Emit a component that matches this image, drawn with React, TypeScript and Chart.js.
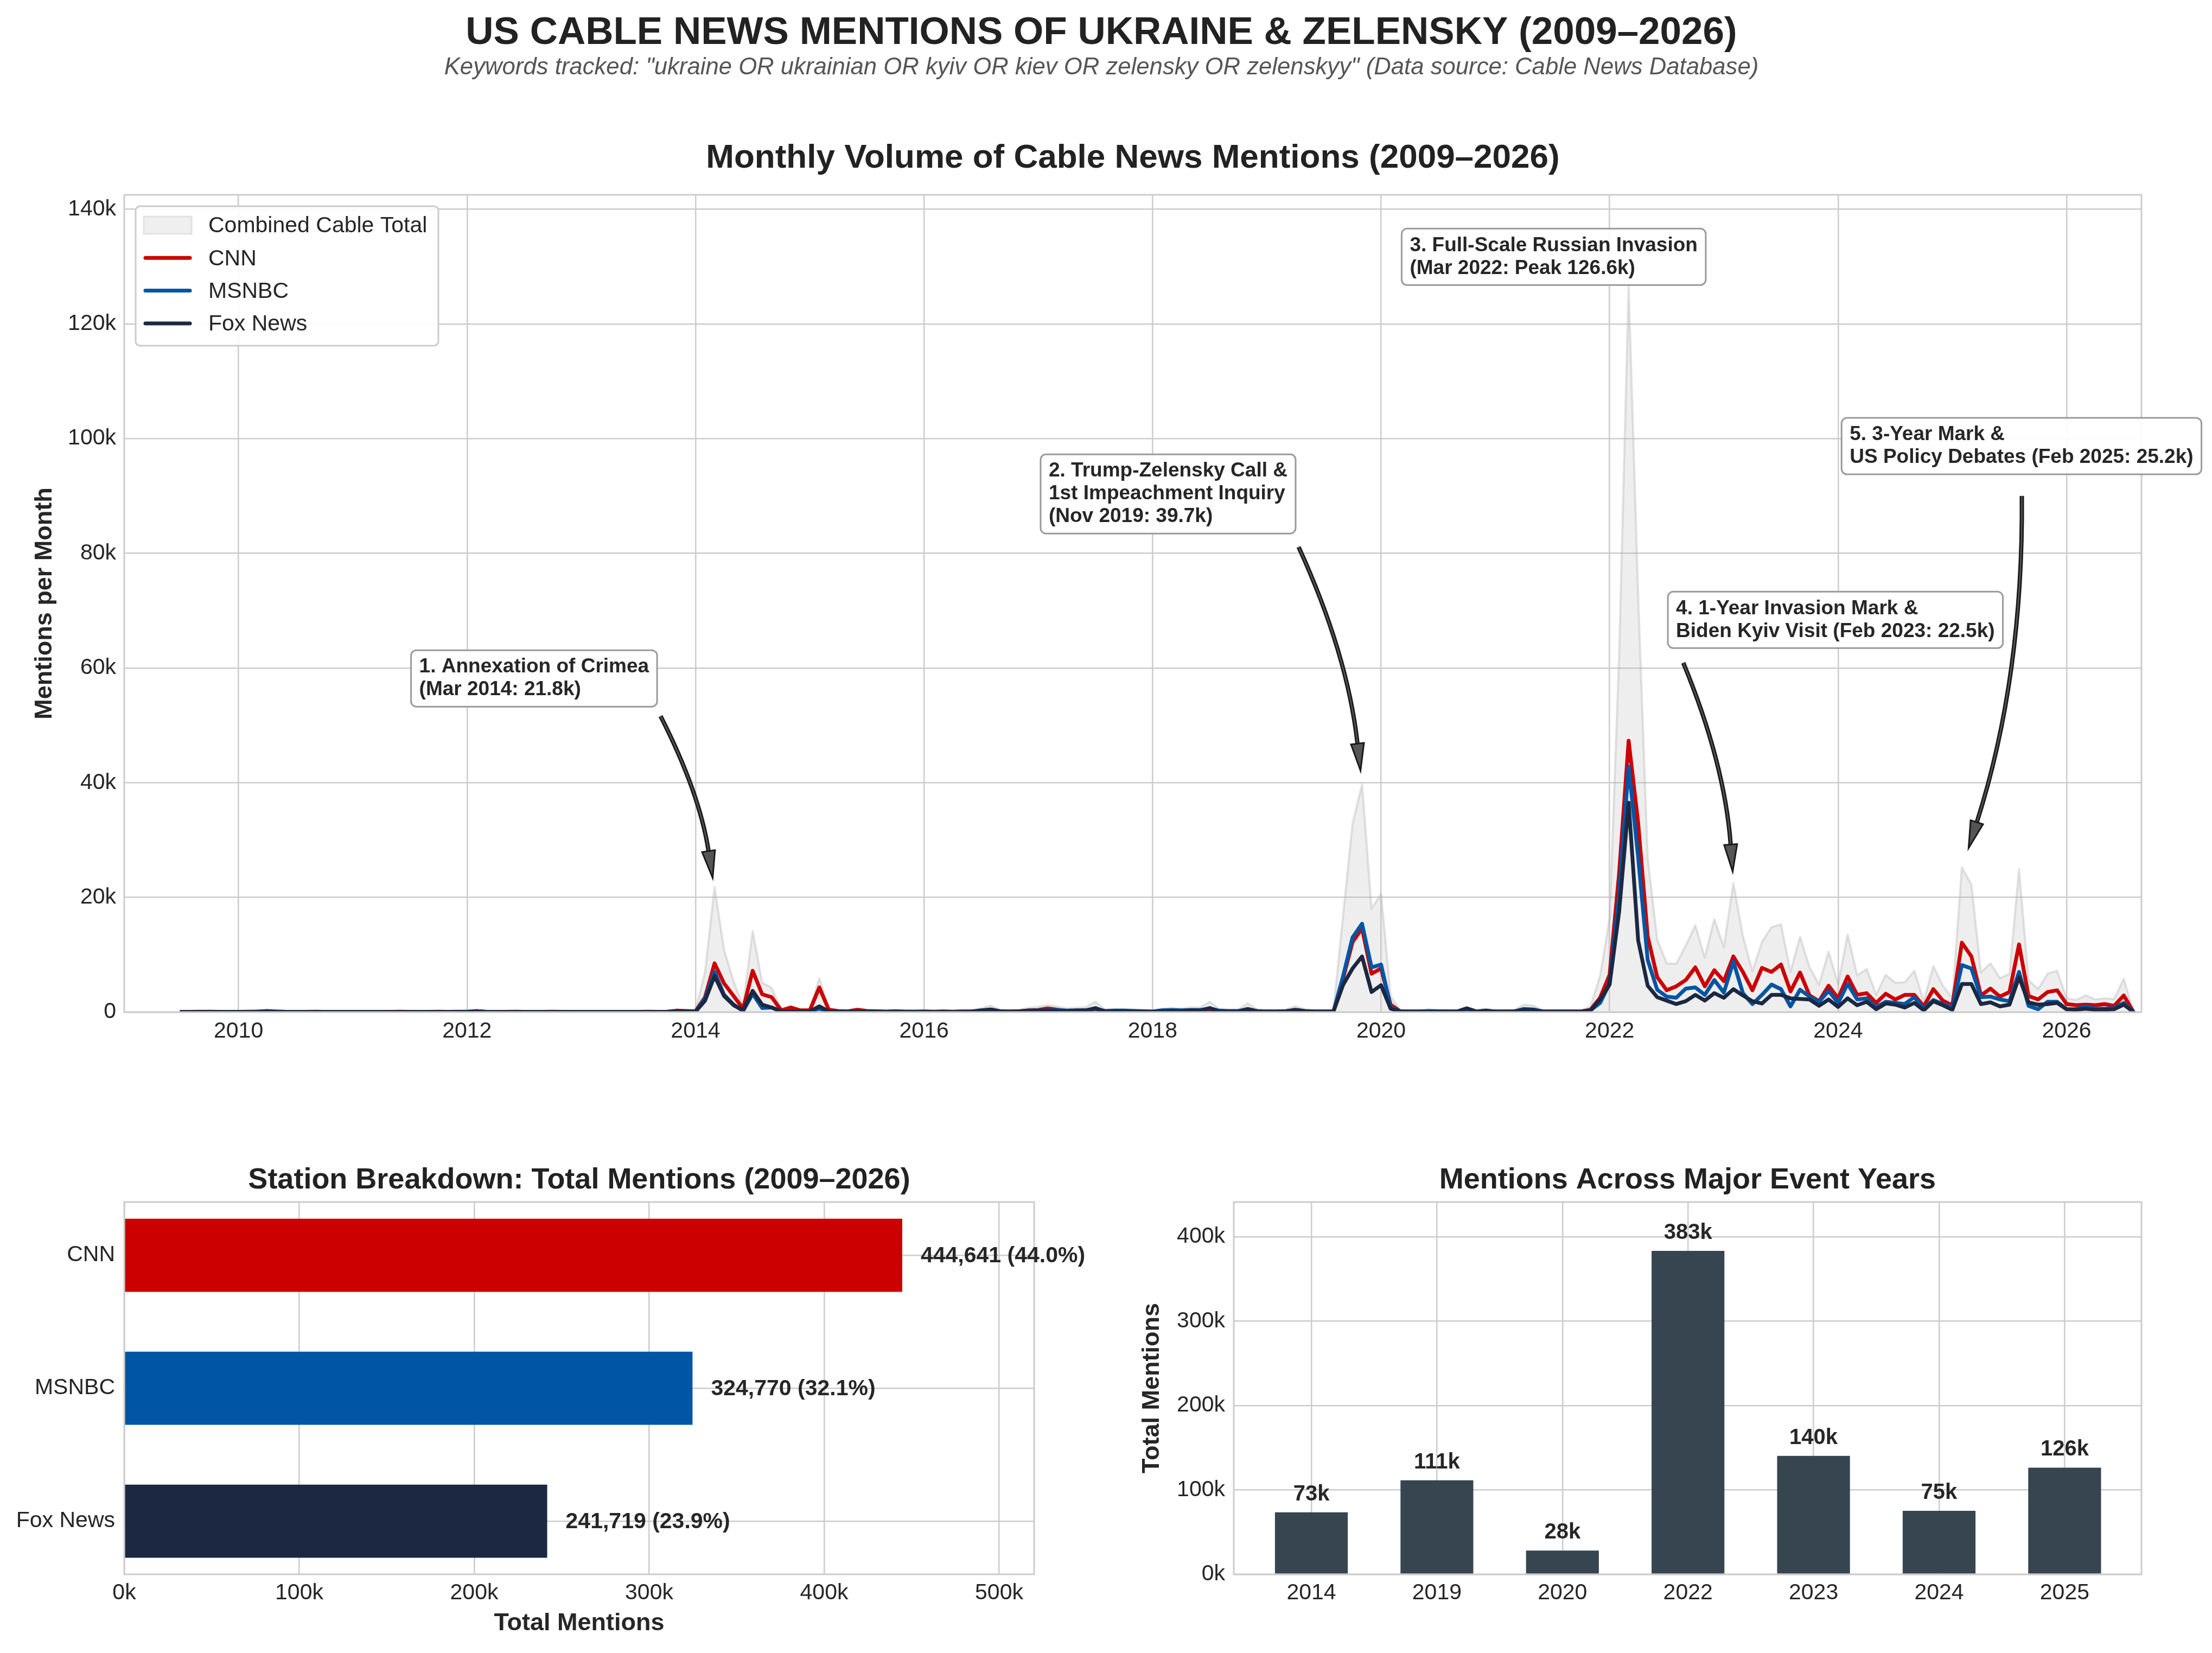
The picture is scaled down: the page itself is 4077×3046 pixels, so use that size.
import React, { useEffect, useRef } from "react";
import { Chart, registerables } from "chart.js";

Chart.register(...registerables);

const FONT = "'Liberation Sans', Arial, Helvetica, sans-serif";
const INK = "#262626";
const GRID = "#cccccc";

const CNN_COLOR = "#CC0000";
const MSNBC_COLOR = "#0055A4";
const FOX_COLOR = "#1C2841";
const EVENT_BAR_COLOR = "#36454F";

// ---------- Monthly series (thousands of mentions), Jul 2009 .. Aug 2026 ----------
const FIRST_YEAR = 2009;
const FIRST_MONTH = 7;

const cnnK: number[] = [
  0.05, 0.04, 0.06, 0.05, 0.04, 0.05, // 2009 Jul-Dec
  0.05, 0.06, 0.08, 0.12, 0.07, 0.05, 0.04, 0.05, 0.06, 0.05, 0.04, 0.05, // 2010
  0.05, 0.04, 0.05, 0.05, 0.04, 0.06, 0.05, 0.04, 0.05, 0.06, 0.05, 0.06, // 2011
  0.08, 0.2, 0.07, 0.05, 0.05, 0.06, 0.05, 0.04, 0.05, 0.06, 0.05, 0.04, // 2012
  0.05, 0.04, 0.05, 0.05, 0.04, 0.05, 0.05, 0.06, 0.05, 0.07, 0.25, 0.2, // 2013
  0.15, 2.6, 8.5, 5.0, 2.8, 0.6, 7.2, 3.1, 2.6, 0.3, 0.8, 0.3, // 2014
  0.3, 4.3, 0.4, 0.2, 0.15, 0.4, 0.2, 0.15, 0.1, 0.15, 0.1, 0.1, // 2015
  0.1, 0.08, 0.1, 0.08, 0.1, 0.12, 0.2, 0.25, 0.15, 0.1, 0.15, 0.3, // 2016
  0.35, 0.65, 0.4, 0.2, 0.2, 0.25, 0.5, 0.15, 0.15, 0.15, 0.15, 0.1, // 2017
  0.1, 0.15, 0.2, 0.15, 0.2, 0.2, 0.45, 0.15, 0.1, 0.15, 0.55, 0.15, // 2018
  0.1, 0.1, 0.15, 0.3, 0.15, 0.1, 0.1, 0.1, 5.8, 12.2, 14.6, 6.7, // 2019
  7.6, 1.3, 0.15, 0.1, 0.1, 0.15, 0.1, 0.12, 0.1, 0.15, 0.1, 0.2, // 2020
  0.1, 0.1, 0.15, 0.35, 0.3, 0.1, 0.1, 0.1, 0.1, 0.1, 0.4, 2.5, // 2021
  6.5, 24.2, 47.3, 33.0, 13.2, 6.1, 3.8, 4.5, 5.6, 7.8, 4.5, 7.3, // 2022
  5.4, 9.7, 7.0, 3.8, 7.7, 7.0, 8.3, 3.6, 6.9, 2.9, 1.9, 4.6, // 2023
  2.4, 6.2, 3.0, 3.3, 1.6, 3.2, 2.2, 3.0, 3.0, 1.0, 4.0, 2.0, // 2024
  1.2, 12.1, 9.7, 2.9, 4.1, 2.7, 3.5, 11.8, 2.8, 2.2, 3.5, 3.8, // 2025
  1.4, 1.2, 1.3, 1.2, 1.4, 1.1, 2.9, 0.1, // 2026 Jan-Aug
];

const msnbcK: number[] = [
  0.03, 0.03, 0.04, 0.03, 0.03, 0.04, // 2009
  0.03, 0.04, 0.08, 0.2, 0.1, 0.04, 0.03, 0.03, 0.04, 0.03, 0.03, 0.03, // 2010
  0.03, 0.03, 0.03, 0.04, 0.03, 0.03, 0.03, 0.03, 0.04, 0.03, 0.03, 0.04, // 2011
  0.03, 0.05, 0.03, 0.03, 0.04, 0.03, 0.03, 0.03, 0.04, 0.03, 0.03, 0.03, // 2012
  0.03, 0.03, 0.03, 0.03, 0.03, 0.03, 0.04, 0.03, 0.03, 0.04, 0.08, 0.06, // 2013
  0.05, 2.4, 7.0, 3.0, 1.3, 0.2, 3.2, 0.7, 0.8, 0.1, 0.1, 0.1, // 2014
  0.1, 0.6, 0.05, 0.05, 0.05, 0.1, 0.1, 0.08, 0.05, 0.1, 0.05, 0.05, // 2015
  0.05, 0.05, 0.05, 0.05, 0.06, 0.08, 0.15, 0.45, 0.1, 0.08, 0.1, 0.25, // 2016
  0.3, 0.3, 0.35, 0.25, 0.3, 0.3, 0.6, 0.2, 0.25, 0.25, 0.2, 0.15, // 2017
  0.1, 0.3, 0.35, 0.3, 0.35, 0.35, 0.65, 0.25, 0.2, 0.2, 0.45, 0.2, // 2018
  0.1, 0.1, 0.15, 0.3, 0.15, 0.1, 0.1, 0.1, 6.2, 13.0, 15.4, 7.8, // 2019
  8.3, 0.9, 0.1, 0.1, 0.1, 0.2, 0.15, 0.1, 0.1, 0.1, 0.1, 0.15, // 2020
  0.1, 0.1, 0.1, 0.55, 0.45, 0.1, 0.1, 0.1, 0.1, 0.08, 0.3, 1.6, // 2021
  5.0, 20.6, 42.8, 27.0, 9.1, 3.9, 2.7, 2.5, 4.1, 4.3, 3.0, 5.6, // 2022
  3.4, 8.8, 3.3, 1.4, 3.0, 4.8, 4.0, 1.0, 3.9, 2.7, 1.8, 3.7, // 2023
  1.6, 4.9, 2.2, 2.4, 0.9, 1.8, 1.6, 1.4, 2.6, 0.6, 2.1, 1.4, // 2024
  0.8, 8.2, 7.6, 2.6, 2.7, 2.2, 1.9, 7.0, 1.1, 0.5, 1.8, 1.8, // 2025
  0.5, 0.5, 1.0, 0.6, 0.6, 0.7, 1.6, 0.05, // 2026
];

const foxK: number[] = [
  0.05, 0.04, 0.05, 0.06, 0.04, 0.05, // 2009
  0.05, 0.05, 0.06, 0.1, 0.07, 0.05, 0.04, 0.04, 0.05, 0.05, 0.04, 0.05, // 2010
  0.04, 0.05, 0.04, 0.05, 0.04, 0.05, 0.05, 0.04, 0.04, 0.05, 0.04, 0.05, // 2011
  0.05, 0.07, 0.05, 0.04, 0.05, 0.04, 0.05, 0.04, 0.05, 0.05, 0.04, 0.05, // 2012
  0.04, 0.05, 0.04, 0.05, 0.04, 0.05, 0.04, 0.05, 0.05, 0.05, 0.1, 0.1, // 2013
  0.08, 2.0, 6.3, 2.8, 1.2, 0.3, 3.7, 1.3, 0.8, 0.1, 0.1, 0.1, // 2014
  0.1, 1.0, 0.1, 0.05, 0.05, 0.1, 0.1, 0.1, 0.05, 0.1, 0.05, 0.05, // 2015
  0.1, 0.05, 0.1, 0.05, 0.1, 0.1, 0.3, 0.45, 0.15, 0.1, 0.15, 0.2, // 2016
  0.25, 0.25, 0.2, 0.2, 0.25, 0.3, 0.7, 0.1, 0.15, 0.15, 0.15, 0.1, // 2017
  0.05, 0.15, 0.2, 0.15, 0.3, 0.25, 0.7, 0.1, 0.1, 0.1, 0.5, 0.1, // 2018
  0.1, 0.1, 0.15, 0.4, 0.2, 0.1, 0.1, 0.1, 4.7, 7.6, 9.7, 3.5, // 2019
  4.7, 0.6, 0.1, 0.1, 0.1, 0.1, 0.1, 0.1, 0.1, 0.65, 0.1, 0.25, // 2020
  0.1, 0.1, 0.1, 0.4, 0.35, 0.1, 0.1, 0.1, 0.1, 0.1, 0.3, 2.2, // 2021
  4.8, 17.5, 36.5, 12.5, 4.6, 2.6, 2.0, 1.4, 1.9, 3.0, 2.0, 3.3, // 2022
  2.5, 4.0, 2.9, 1.9, 1.5, 3.0, 3.0, 2.4, 2.3, 2.2, 1.1, 2.2, // 2023
  0.9, 2.4, 1.2, 1.8, 0.5, 1.5, 1.3, 0.8, 1.6, 0.3, 1.9, 1.2, // 2024
  0.4, 4.9, 4.9, 1.4, 1.7, 1.0, 1.3, 6.1, 1.7, 1.3, 1.4, 1.6, // 2025
  0.5, 0.4, 0.6, 0.4, 0.4, 0.5, 1.3, 0.05, // 2026
];

const seriesLabels = ["Combined Cable Total", "CNN", "MSNBC", "Fox News"];

const yearTicks = [2010, 2012, 2014, 2016, 2018, 2020, 2022, 2024, 2026];
const monthlyTicks = [0, 20000, 40000, 60000, 80000, 100000, 120000, 140000];

// ---------- Station totals ----------
const stationNames = ["CNN", "MSNBC", "Fox News"];
const stationTotals = [444641, 324770, 241719];
const stationColors = [CNN_COLOR, MSNBC_COLOR, FOX_COLOR];
const stationTicks = [0, 100000, 200000, 300000, 400000, 500000];

// ---------- Event years ----------
const eventYears = ["2014", "2019", "2020", "2022", "2023", "2024", "2025"];
const eventTotals = [73400, 111300, 28200, 383100, 140300, 75200, 126400];
const eventTicks = [0, 100000, 200000, 300000, 400000];

// ---------- Annotations ----------
const noteTexts = [
  ["1. Annexation of Crimea", "(Mar 2014: 21.8k)"],
  ["2. Trump-Zelensky Call &", "1st Impeachment Inquiry", "(Nov 2019: 39.7k)"],
  ["3. Full-Scale Russian Invasion", "(Mar 2022: Peak 126.6k)"],
  ["4. 1-Year Invasion Mark &", "Biden Kyiv Visit (Feb 2023: 22.5k)"],
  ["5. 3-Year Mark &", "US Policy Debates (Feb 2025: 25.2k)"],
];
// top-left corner of each note box, in data units (year, mentions)
const noteBoxAt = [
  { x: 2011.51, y: 63100 },
  { x: 2017.02, y: 97250 },
  { x: 2020.18, y: 136600 },
  { x: 2022.51, y: 73300 },
  { x: 2024.03, y: 103600 },
];
const noteArrowFrom = [
  { x: 2013.694, y: 51600 },
  { x: 2019.278, y: 81100 },
  null,
  { x: 2022.645, y: 60900 },
  { x: 2025.608, y: 90000 },
];
const noteArrowTo = [
  { x: 2014.15, y: 23400 },
  { x: 2019.82, y: 42100 },
  null,
  { x: 2023.077, y: 24500 },
  { x: 2025.142, y: 28600 },
];

Chart.defaults.font.family = FONT;
Chart.defaults.color = INK;

function roundRectPath(ctx: CanvasRenderingContext2D, x: number, y: number, w: number, h: number, r: number) {
  ctx.beginPath();
  ctx.moveTo(x + r, y);
  ctx.arcTo(x + w, y, x + w, y + h, r);
  ctx.arcTo(x + w, y + h, x, y + h, r);
  ctx.arcTo(x, y + h, x, y, r);
  ctx.arcTo(x, y, x + w, y, r);
  ctx.closePath();
}

function drawArrow(ctx: CanvasRenderingContext2D, x0: number, y0: number, x1: number, y1: number) {
  const dx = x1 - x0;
  const dy = y1 - y0;
  const f = 0.08;
  const cx = (x0 + x1) / 2 + f * dy;
  const cy = (y0 + y1) / 2 - f * dx;
  let tx = x1 - cx;
  let ty = y1 - cy;
  const tl = Math.hypot(tx, ty);
  tx /= tl;
  ty /= tl;
  const headLen = 50;
  const headHalf = 12;
  const bx = x1 - tx * headLen;
  const by = y1 - ty * headLen;
  ctx.save();
  ctx.lineCap = "butt";
  ctx.beginPath();
  ctx.moveTo(x0, y0);
  ctx.quadraticCurveTo(cx, cy, bx, by);
  ctx.strokeStyle = "#1a1a1a";
  ctx.lineWidth = 8;
  ctx.stroke();
  ctx.strokeStyle = "#555555";
  ctx.lineWidth = 2.5;
  ctx.stroke();
  ctx.beginPath();
  ctx.moveTo(x1, y1);
  ctx.lineTo(bx - ty * headHalf, by + tx * headHalf);
  ctx.lineTo(bx + ty * headHalf, by - tx * headHalf);
  ctx.closePath();
  ctx.fillStyle = "#555555";
  ctx.fill();
  ctx.strokeStyle = "#1a1a1a";
  ctx.lineWidth = 3;
  ctx.lineJoin = "miter";
  ctx.stroke();
  ctx.restore();
}

function drawFrame(chart: any) {
  const { ctx, chartArea: a } = chart;
  ctx.save();
  ctx.strokeStyle = GRID;
  ctx.lineWidth = 3;
  ctx.strokeRect(a.left, a.top, a.right - a.left, a.bottom - a.top);
  ctx.restore();
}

function tickFont(size = 41) {
  return { size, family: FONT };
}

function makeTopChart(canvas: HTMLCanvasElement) {
  const monthX = cnnK.map((_, i) => FIRST_YEAR + (FIRST_MONTH - 1 + i) / 12);
  const combinedK = cnnK.map((v, i) => v + msnbcK[i] + foxK[i]);
  const pts = (arr: number[]) => arr.map((v, i) => ({ x: monthX[i], y: v * 1000 }));
  const colors = ["rgba(190,190,190,0.26)", CNN_COLOR, MSNBC_COLOR, FOX_COLOR];

  const topPlugin = {
    id: "topDecor",
    afterDatasetsDraw(chart: any) {
      const { ctx, chartArea: a, scales } = chart;
      drawFrame(chart);
      const xs = scales.x;
      const ys = scales.y;
      // annotations
      noteTexts.forEach((lines, i) => {
        const from = noteArrowFrom[i];
        const to = noteArrowTo[i];
        if (from && to) {
          drawArrow(ctx, xs.getPixelForValue(from.x), ys.getPixelForValue(from.y), xs.getPixelForValue(to.x), ys.getPixelForValue(to.y));
        }
        ctx.save();
        ctx.font = `bold 37px ${FONT}`;
        const w = Math.max(...lines.map((l) => ctx.measureText(l).width)) + 30;
        const h = lines.length * 42 + 20;
        const bx = xs.getPixelForValue(noteBoxAt[i].x);
        const by = ys.getPixelForValue(noteBoxAt[i].y);
        roundRectPath(ctx, bx, by, w, h, 10);
        ctx.fillStyle = "rgba(255,255,255,0.92)";
        ctx.fill();
        ctx.strokeStyle = "#9a9a9a";
        ctx.lineWidth = 3;
        ctx.stroke();
        ctx.fillStyle = INK;
        ctx.textBaseline = "middle";
        ctx.textAlign = "left";
        lines.forEach((l, j) => ctx.fillText(l, bx + 15, by + 31 + j * 42));
        ctx.restore();
      });
      // legend
      ctx.save();
      const lx = a.left + 21;
      const ly = a.top + 21;
      roundRectPath(ctx, lx, ly, 558, 257, 8);
      ctx.fillStyle = "rgba(255,255,255,0.9)";
      ctx.fill();
      ctx.strokeStyle = GRID;
      ctx.lineWidth = 3;
      ctx.stroke();
      ctx.font = `41px ${FONT}`;
      ctx.textBaseline = "middle";
      ctx.textAlign = "left";
      chart.data.datasets.forEach((ds: any, i: number) => {
        const ry = a.top + 56 + i * 60.3;
        const sx0 = a.left + 36;
        const sx1 = a.left + 124;
        if (i === 0) {
          ctx.fillStyle = "#efefef";
          ctx.fillRect(sx0, ry - 16, sx1 - sx0, 32);
          ctx.strokeStyle = "#e2e2e2";
          ctx.lineWidth = 3;
          ctx.strokeRect(sx0, ry - 16, sx1 - sx0, 32);
        } else {
          ctx.strokeStyle = ds.borderColor;
          ctx.lineWidth = 7;
          ctx.lineCap = "round";
          ctx.beginPath();
          ctx.moveTo(sx0 + 3, ry);
          ctx.lineTo(sx1 - 3, ry);
          ctx.stroke();
        }
        ctx.fillStyle = INK;
        ctx.fillText(ds.label, a.left + 155, ry + 2);
      });
      ctx.restore();
    },
    afterDraw(chart: any) {
      const { ctx, chartArea: a } = chart;
      ctx.save();
      ctx.textAlign = "center";
      ctx.textBaseline = "alphabetic";
      ctx.fillStyle = "#222222";
      ctx.font = `bold 71px ${FONT}`;
      ctx.fillText("US CABLE NEWS MENTIONS OF UKRAINE & ZELENSKY (2009–2026)", 2030, 81);
      ctx.fillStyle = "#555555";
      ctx.font = `italic 43.7px ${FONT}`;
      ctx.fillText(
        'Keywords tracked: "ukraine OR ukrainian OR kyiv OR kiev OR zelensky OR zelenskyy" (Data source: Cable News Database)',
        2030,
        137
      );
      ctx.fillStyle = "#222222";
      ctx.font = `bold 62px ${FONT}`;
      ctx.fillText("Monthly Volume of Cable News Mentions (2009–2026)", (a.left + a.right) / 2, 309);
      ctx.restore();
    },
  };

  return new Chart(canvas, {
    type: "line",
    data: {
      datasets: [combinedK, cnnK, msnbcK, foxK].map((arr, i) => ({
        label: seriesLabels[i],
        data: pts(arr),
        borderColor: i === 0 ? "rgba(175,175,175,0.35)" : colors[i],
        backgroundColor: colors[i],
        borderWidth: i === 0 ? 4 : 7,
        fill: i === 0 ? "origin" : false,
        pointRadius: 0,
        tension: 0,
        borderJoinStyle: "round",
        borderCapStyle: "round",
        order: i === 0 ? 3 : 3 - i,
      })),
    },
    options: {
      animation: false,
      responsive: false,
      maintainAspectRatio: false,
      devicePixelRatio: 1,
      layout: { padding: { top: 359, right: 130, bottom: 0, left: 0 } },
      plugins: { legend: { display: false }, tooltip: { enabled: false }, title: { display: false } },
      scales: {
        x: {
          type: "linear",
          min: 2009,
          max: 2026.655,
          afterBuildTicks: (s: any) => {
            s.ticks = yearTicks.map((v) => ({ value: v }));
          },
          afterFit: (s: any) => {
            s.height = 135;
          },
          ticks: {
            callback: (v: any) => String(v),
            font: tickFont(),
            color: INK,
            padding: 11,
            maxRotation: 0,
            autoSkip: false,
          },
          grid: { color: GRID, lineWidth: 2.5, drawTicks: false },
          border: { display: false },
        },
        y: {
          type: "linear",
          min: 0,
          max: 142500,
          afterBuildTicks: (s: any) => {
            s.ticks = monthlyTicks.map((v) => ({ value: v }));
          },
          afterFit: (s: any) => {
            s.width = 229;
          },
          ticks: {
            callback: (v: any) => (v === 0 ? "0" : `${v / 1000}k`),
            font: tickFont(),
            color: INK,
            padding: 15,
          },
          grid: { color: GRID, lineWidth: 2.5, drawTicks: false },
          border: { display: false },
          title: {
            display: true,
            text: "Mentions per Month",
            font: { size: 45, weight: "bold", family: FONT },
            color: INK,
            padding: { top: 56, bottom: 0 },
          },
        },
      },
    },
    plugins: [topPlugin],
  } as any);
}

function makeStationChart(canvas: HTMLCanvasElement) {
  const total = stationTotals.reduce((s, v) => s + v, 0);
  const plugin = {
    id: "stationDecor",
    afterDatasetsDraw(chart: any) {
      const { ctx } = chart;
      drawFrame(chart);
      const meta = chart.getDatasetMeta(0);
      ctx.save();
      ctx.font = `bold 41px ${FONT}`;
      ctx.fillStyle = INK;
      ctx.textAlign = "left";
      ctx.textBaseline = "middle";
      meta.data.forEach((el: any, i: number) => {
        const v = stationTotals[i];
        const label = `${v.toLocaleString("en-US")} (${((v / total) * 100).toFixed(1)}%)`;
        ctx.fillText(label, el.x + 34, el.y + 2);
      });
      ctx.restore();
    },
    afterDraw(chart: any) {
      const { ctx, chartArea: a } = chart;
      ctx.save();
      ctx.font = `bold 54px ${FONT}`;
      ctx.fillStyle = "#222222";
      ctx.textAlign = "center";
      ctx.textBaseline = "alphabetic";
      ctx.fillText("Station Breakdown: Total Mentions (2009–2026)", (a.left + a.right) / 2, 190);
      ctx.restore();
    },
  };
  return new Chart(canvas, {
    type: "bar",
    data: {
      datasets: [
        {
          data: stationTotals.map((v, i) => ({ x: v, y: i })),
          backgroundColor: stationColors,
          borderWidth: 0,
          barPercentage: 0.55,
          categoryPercentage: 1,
        },
      ],
    },
    options: {
      indexAxis: "y",
      animation: false,
      responsive: false,
      maintainAspectRatio: false,
      devicePixelRatio: 1,
      layout: { padding: { top: 215, right: 134, bottom: 0, left: 0 } },
      plugins: { legend: { display: false }, tooltip: { enabled: false } },
      scales: {
        y: {
          type: "linear",
          min: -0.4,
          max: 2.4,
          reverse: true,
          offset: false,
          afterBuildTicks: (s: any) => {
            s.ticks = stationNames.map((_, i) => ({ value: i }));
          },
          afterFit: (s: any) => {
            s.width = 229;
          },
          ticks: {
            callback: (v: any) => stationNames[v] ?? "",
            font: tickFont(),
            color: INK,
            padding: 17,
            autoSkip: false,
          },
          grid: { color: GRID, lineWidth: 2.5, drawTicks: false, offset: false },
          border: { display: false },
        },
        x: {
          type: "linear",
          min: 0,
          max: 520000,
          afterBuildTicks: (s: any) => {
            s.ticks = stationTicks.map((v) => ({ value: v }));
          },
          afterFit: (s: any) => {
            s.height = 145;
          },
          ticks: {
            callback: (v: any) => `${v / 1000}k`,
            font: tickFont(),
            color: INK,
            padding: 10,
            maxRotation: 0,
            autoSkip: false,
          },
          grid: { color: GRID, lineWidth: 2.5, drawTicks: false },
          border: { display: false },
          title: {
            display: true,
            text: "Total Mentions",
            font: { size: 45, weight: "bold", family: FONT },
            color: INK,
            padding: { top: 0, bottom: 27 },
          },
        },
      },
    },
    plugins: [plugin],
  } as any);
}

function makeEventChart(canvas: HTMLCanvasElement) {
  const plugin = {
    id: "eventDecor",
    afterDatasetsDraw(chart: any) {
      const { ctx } = chart;
      drawFrame(chart);
      const meta = chart.getDatasetMeta(0);
      ctx.save();
      ctx.font = `bold 40px ${FONT}`;
      ctx.fillStyle = INK;
      ctx.textAlign = "center";
      ctx.textBaseline = "alphabetic";
      meta.data.forEach((el: any, i: number) => {
        ctx.fillText(`${Math.round(eventTotals[i] / 1000)}k`, el.x, el.y - 22);
      });
      ctx.restore();
    },
    afterDraw(chart: any) {
      const { ctx, chartArea: a } = chart;
      ctx.save();
      ctx.font = `bold 54px ${FONT}`;
      ctx.fillStyle = "#222222";
      ctx.textAlign = "center";
      ctx.textBaseline = "alphabetic";
      ctx.fillText("Mentions Across Major Event Years", (a.left + a.right) / 2, 190);
      ctx.restore();
    },
  };
  return new Chart(canvas, {
    type: "bar",
    data: {
      datasets: [
        {
          data: eventTotals.map((v, i) => ({ x: i, y: v })),
          backgroundColor: EVENT_BAR_COLOR,
          borderWidth: 0,
          barPercentage: 0.58,
          categoryPercentage: 1,
        },
      ],
    },
    options: {
      animation: false,
      responsive: false,
      maintainAspectRatio: false,
      devicePixelRatio: 1,
      layout: { padding: { top: 215, right: 130, bottom: 0, left: 0 } },
      plugins: { legend: { display: false }, tooltip: { enabled: false } },
      scales: {
        x: {
          type: "linear",
          min: -0.618,
          max: 6.612,
          offset: false,
          afterBuildTicks: (s: any) => {
            s.ticks = eventYears.map((_, i) => ({ value: i }));
          },
          afterFit: (s: any) => {
            s.height = 145;
          },
          ticks: {
            callback: (v: any) => eventYears[v] ?? "",
            font: tickFont(),
            color: INK,
            padding: 10,
            maxRotation: 0,
            autoSkip: false,
          },
          grid: { color: GRID, lineWidth: 2.5, drawTicks: false, offset: false },
          border: { display: false },
        },
        y: {
          type: "linear",
          min: 0,
          max: 441000,
          afterBuildTicks: (s: any) => {
            s.ticks = eventTicks.map((v) => ({ value: v }));
          },
          afterFit: (s: any) => {
            s.width = 234;
          },
          ticks: {
            callback: (v: any) => `${v / 1000}k`,
            font: tickFont(),
            color: INK,
            padding: 16,
          },
          grid: { color: GRID, lineWidth: 2.5, drawTicks: false },
          border: { display: false },
          title: {
            display: true,
            text: "Total Mentions",
            font: { size: 45, weight: "bold", family: FONT },
            color: INK,
            padding: { top: 57, bottom: 0 },
          },
        },
      },
    },
    plugins: [plugin],
  } as any);
}

export default function App() {
  const topRef = useRef<HTMLCanvasElement>(null);
  const leftRef = useRef<HTMLCanvasElement>(null);
  const rightRef = useRef<HTMLCanvasElement>(null);

  useEffect(() => {
    const charts = [
      makeTopChart(topRef.current as HTMLCanvasElement),
      makeStationChart(leftRef.current as HTMLCanvasElement),
      makeEventChart(rightRef.current as HTMLCanvasElement),
    ];
    return () => charts.forEach((c) => c.destroy());
  }, []);

  return (
    <div
      style={{
        position: "absolute",
        left: 0,
        top: 0,
        width: 4077,
        height: 3046,
        background: "#ffffff",
        overflow: "hidden",
      }}
    >
      <canvas
        ref={topRef}
        width={4077}
        height={2000}
        style={{ position: "absolute", left: 0, top: 0, width: 4077, height: 2000 }}
      />
      <canvas
        ref={leftRef}
        width={2040}
        height={1046}
        style={{ position: "absolute", left: 0, top: 2000, width: 2040, height: 1046 }}
      />
      <canvas
        ref={rightRef}
        width={2037}
        height={1046}
        style={{ position: "absolute", left: 2040, top: 2000, width: 2037, height: 1046 }}
      />
    </div>
  );
}
